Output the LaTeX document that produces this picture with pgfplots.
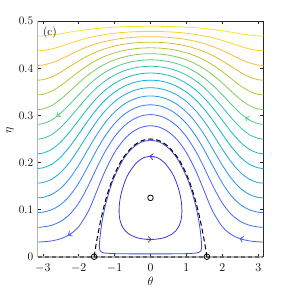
\documentclass[border=0pt]{standalone}
\usepackage{pgfplots}
\pgfplotsset{compat=1.18}
\usepackage{pgfplotstable}
\usetikzlibrary{arrows.meta}

\definecolor{cm1}{rgb}{0.268,0.206,0.816}
\definecolor{c0}{rgb}{0.280,0.278,0.922}
\definecolor{c1}{rgb}{0.278,0.356,0.977}
\definecolor{c2}{rgb}{0.244,0.436,0.999}
\definecolor{c3}{rgb}{0.181,0.518,0.974}
\definecolor{c4}{rgb}{0.154,0.590,0.922}
\definecolor{c5}{rgb}{0.118,0.655,0.882}
\definecolor{c6}{rgb}{0.030,0.708,0.816}
\definecolor{c7}{rgb}{0.070,0.746,0.726}
\definecolor{c8}{rgb}{0.194,0.776,0.625}
\definecolor{c9}{rgb}{0.316,0.799,0.499}
\definecolor{c10}{rgb}{0.504,0.799,0.348}
\definecolor{c11}{rgb}{0.698,0.775,0.207}
\definecolor{c12}{rgb}{0.863,0.741,0.160}
\definecolor{c13}{rgb}{0.984,0.737,0.238}
\definecolor{c14}{rgb}{0.989,0.814,0.189}
\definecolor{c15}{rgb}{0.960,0.901,0.148}

\pgfplotstableread{
t k3 k4 k5 k6 k7 k8 k9 k10 k11 k12 k13 k14 k15
-3.1416 0.0938 0.1250 0.1563 0.1875 0.2188 0.2500 0.2813 0.3125 0.3438 0.3750 0.4063 0.4375 0.4688
-3.0 0.0945 0.1259 0.1573 0.1887 0.2200 0.2513 0.2825 0.3137 0.3448 0.3759 0.4070 0.4380 0.4690
-2.75 0.0998 0.1324 0.1646 0.1965 0.2281 0.2594 0.2905 0.3212 0.3516 0.3818 0.4118 0.4414 0.4708
-2.5 0.1109 0.1455 0.1791 0.2118 0.2436 0.2746 0.3049 0.3345 0.3635 0.3919 0.4197 0.4469 0.4737
-2.25 0.1294 0.1663 0.2009 0.2338 0.2651 0.2950 0.3237 0.3513 0.3780 0.4039 0.4289 0.4533 0.4769
-2.0 0.1565 0.1944 0.2287 0.2604 0.2899 0.3176 0.3439 0.3690 0.3929 0.4159 0.4380 0.4593 0.4800
-1.75 0.1907 0.2268 0.2588 0.2879 0.3146 0.3395 0.3630 0.3852 0.4063 0.4265 0.4459 0.4646 0.4826
-1.5 0.2264 0.2587 0.2871 0.3129 0.3366 0.3586 0.3793 0.3989 0.4175 0.4353 0.4524 0.4688 0.4847
-1.25 0.2580 0.2860 0.3109 0.3336 0.3545 0.3740 0.3924 0.4098 0.4264 0.4422 0.4575 0.4721 0.4863
-1.0 0.2829 0.3074 0.3294 0.3495 0.3682 0.3858 0.4023 0.4180 0.4331 0.4474 0.4613 0.4746 0.4875
-0.75 0.3012 0.3230 0.3429 0.3612 0.3782 0.3943 0.4096 0.4240 0.4379 0.4512 0.4640 0.4764 0.4884
-0.5 0.3134 0.3335 0.3519 0.3690 0.3850 0.4001 0.4144 0.4281 0.4412 0.4538 0.4659 0.4776 0.4890
-0.25 0.3204 0.3395 0.3572 0.3735 0.3889 0.4034 0.4172 0.4304 0.4431 0.4552 0.4670 0.4783 0.4893
0 0.3226 0.3415 0.3589 0.3750 0.3902 0.4045 0.4182 0.4312 0.4437 0.4557 0.4673 0.4786 0.4894
0.25 0.3204 0.3395 0.3572 0.3735 0.3889 0.4034 0.4172 0.4304 0.4431 0.4552 0.4670 0.4783 0.4893
0.5 0.3134 0.3335 0.3519 0.3690 0.3850 0.4001 0.4144 0.4281 0.4412 0.4538 0.4659 0.4776 0.4890
0.75 0.3012 0.3230 0.3429 0.3612 0.3782 0.3943 0.4096 0.4240 0.4379 0.4512 0.4640 0.4764 0.4884
1.0 0.2829 0.3074 0.3294 0.3495 0.3682 0.3858 0.4023 0.4180 0.4331 0.4474 0.4613 0.4746 0.4875
1.25 0.2580 0.2860 0.3109 0.3336 0.3545 0.3740 0.3924 0.4098 0.4264 0.4422 0.4575 0.4721 0.4863
1.5 0.2264 0.2587 0.2871 0.3129 0.3366 0.3586 0.3793 0.3989 0.4175 0.4353 0.4524 0.4688 0.4847
1.75 0.1907 0.2268 0.2588 0.2879 0.3146 0.3395 0.3630 0.3852 0.4063 0.4265 0.4459 0.4646 0.4826
2.0 0.1565 0.1944 0.2287 0.2604 0.2899 0.3176 0.3439 0.3690 0.3929 0.4159 0.4380 0.4593 0.4800
2.25 0.1294 0.1663 0.2009 0.2338 0.2651 0.2950 0.3237 0.3513 0.3780 0.4039 0.4289 0.4533 0.4769
2.5 0.1109 0.1455 0.1791 0.2118 0.2436 0.2746 0.3049 0.3345 0.3635 0.3919 0.4197 0.4469 0.4737
2.75 0.0998 0.1324 0.1646 0.1965 0.2281 0.2594 0.2905 0.3212 0.3516 0.3818 0.4118 0.4414 0.4708
3.0 0.0945 0.1259 0.1573 0.1887 0.2200 0.2513 0.2825 0.3137 0.3448 0.3759 0.4070 0.4380 0.4690
3.1416 0.0938 0.1250 0.1563 0.1875 0.2188 0.2500 0.2813 0.3125 0.3438 0.3750 0.4063 0.4375 0.4688
}\tabA

\pgfplotstableread{
t k1 k2
-3.1416 0.0313 0.0625
-3.0 0.0316 0.0631
-2.75 0.0336 0.0669
-2.5 0.0383 0.0752
-2.25 0.0471 0.0899
-2.0 0.0637 0.1138
-1.75 0.0939 0.1482
-1.625 0.1150 0.1680
-1.5 0.1384 0.1882
-1.375 0.1621 0.2075
-1.25 0.1843 0.2253
-1.0 0.2212 0.2550
-0.75 0.2477 0.2765
-0.5 0.2651 0.2909
-0.25 0.2749 0.2991
0 0.2781 0.3018
0.25 0.2749 0.2991
0.5 0.2651 0.2909
0.75 0.2477 0.2765
1.0 0.2212 0.2550
1.25 0.1843 0.2253
1.375 0.1621 0.2075
1.5 0.1384 0.1882
1.625 0.1150 0.1680
1.75 0.0939 0.1482
2.0 0.0637 0.1138
2.25 0.0471 0.0899
2.5 0.0383 0.0752
2.75 0.0336 0.0669
3.0 0.0316 0.0631
3.1416 0.0313 0.0625
}\tabB

\begin{document}
\begin{tikzpicture}
\path[use as bounding box] (-37.7pt,-34.3pt) rectangle (253.3pt,256.7pt);
\begin{axis}[
  scale only axis, width=225.6pt, height=235.4pt,
  xmin=-3.14159, xmax=3.14159, ymin=0, ymax=0.5,
  xtick={-3,-2,-1,0,1,2,3},
  ytick={0,0.1,0.2,0.3,0.4,0.5},
  yticklabels={0,0.1,0.2,0.3,0.4,0.5},
  tick align=inside, major tick length=3pt,
  axis line style={black!85, line width=0.5pt},
  tick style={black!85, line width=0.5pt},
  tick label style={font=\fontsize{11.5pt}{13pt}\selectfont},
  label style={font=\fontsize{11.5pt}{13pt}\selectfont},
  xlabel={$\theta$}, ylabel={$\eta$},
  xlabel style={at={(axis description cs:0.5,-0.1032)},anchor=center},
  ylabel style={at={(axis description cs:-0.1228,0.535)},anchor=center},
  xticklabel style={yshift=-3.5pt},
  yticklabel style={xshift=-1pt},
  clip=false,
  every axis plot/.append style={line width=0.8pt},
]
% outer contours
\addplot[c1, smooth] table[x=t,y=k1]{\tabB};
\addplot[c2, smooth] table[x=t,y=k2]{\tabB};
\addplot[c3, smooth] table[x=t,y=k3]{\tabA};
\addplot[c4, smooth] table[x=t,y=k4]{\tabA};
\addplot[c5, smooth] table[x=t,y=k5]{\tabA};
\addplot[c6, smooth] table[x=t,y=k6]{\tabA};
\addplot[c7, smooth] table[x=t,y=k7]{\tabA};
\addplot[c8, smooth] table[x=t,y=k8]{\tabA};
\addplot[c9, smooth] table[x=t,y=k9]{\tabA};
\addplot[c10, smooth] table[x=t,y=k10]{\tabA};
\addplot[c11, smooth] table[x=t,y=k11]{\tabA};
\addplot[c12, smooth] table[x=t,y=k12]{\tabA};
\addplot[c13, smooth] table[x=t,y=k13]{\tabA};
\addplot[c14, smooth] table[x=t,y=k14]{\tabA};
\addplot[c15, smooth] table[x=t,y=k15]{\tabA};
% inner closed orbit
\addplot[cm1, smooth] coordinates {
(0,0.2134)(0.2,0.2099)(0.4,0.1988)(0.6,0.1780)(0.7,0.1621)(0.8,0.1391)(0.85,0.1210)(0.865,0.1125)(0.875,0.0976)
(0.865,0.0843)(0.85,0.0778)(0.8,0.0662)(0.7,0.0546)(0.6,0.0481)(0.4,0.0409)(0.2,0.0376)(0,0.0366)
(-0.2,0.0376)(-0.4,0.0409)(-0.6,0.0481)(-0.7,0.0546)(-0.8,0.0662)(-0.85,0.0778)(-0.865,0.0843)(-0.875,0.0976)
(-0.865,0.1125)(-0.85,0.1210)(-0.8,0.1391)(-0.7,0.1621)(-0.6,0.1780)(-0.4,0.1988)(-0.2,0.2099)(0,0.2134)};
% orbit hugging separatrix
\addplot[c0, smooth] coordinates {
(0,0.2475)(0.25,0.2435)(0.5,0.2308)(0.75,0.2078)(1.0,0.1706)(1.125,0.1446)(1.25,0.1113)(1.3,0.094)(1.35,0.074)(1.39,0.053)(1.415,0.034)(1.425,0.022)
(1.41,0.014)(1.37,0.010)(1.3,0.008)(1.0,0.0065)(0.5,0.006)(0,0.006)
(-0.5,0.006)(-1.0,0.0065)(-1.3,0.008)(-1.37,0.010)(-1.41,0.014)(-1.425,0.022)
(-1.415,0.034)(-1.39,0.053)(-1.35,0.074)(-1.3,0.094)(-1.25,0.1113)(-1.125,0.1446)(-1.0,0.1706)(-0.75,0.2078)(-0.5,0.2308)(-0.25,0.2435)(0,0.2475)};
% invariant edges
\addplot[black!30, line width=1.6pt] coordinates {(-3.14159,0)(-3.14159,0.5)};
\addplot[black!30, line width=1.8pt] coordinates {(-3.14159,0)(3.14159,0)};
\addplot[black!60, line width=1.8pt, dash pattern=on 4pt off 3pt] coordinates {(-3.14159,0)(3.14159,0)};
% separatrix
\addplot[black, line width=1pt, dash pattern=on 5pt off 3pt, smooth] coordinates {
(-1.5708,0)(-1.5,0.0330)(-1.375,0.0814)(-1.25,0.1199)(-1.125,0.1506)(-1.0,0.1754)(-0.875,0.1952)(-0.75,0.2113)(-0.5,0.2337)(-0.25,0.2461)(0,0.25)
(0.25,0.2461)(0.5,0.2337)(0.75,0.2113)(0.875,0.1952)(1.0,0.1754)(1.125,0.1506)(1.25,0.1199)(1.375,0.0814)(1.5,0.0330)(1.5708,0)};
% fixed points
\addplot[only marks, mark=o, mark size=2.8pt, black, mark options={line width=0.8pt}] coordinates {(0,0.125)(-1.5708,0)(1.5708,0)};
% arrows
\addplot[c1, -{Straight Barb[length=3pt,width=6pt]}] coordinates {(-2.2,0.0498)(-2.3,0.0453)};
\addplot[c1, -{Straight Barb[length=3pt,width=6pt]}] coordinates {(2.6,0.0362)(2.48,0.0388)};
\addplot[c9, -{Straight Barb[length=3pt,width=6pt]}] coordinates {(-2.5,0.3049)(-2.62,0.2980)};
\addplot[c9, -{Straight Barb[length=3pt,width=6pt]}] coordinates {(2.76,0.2900)(2.64,0.2968)};
\addplot[cm1, -{Straight Barb[length=3pt,width=6pt]}] coordinates {(0.12,0.2121)(-0.03,0.2133)};
\addplot[cm1, -{Straight Barb[length=3pt,width=6pt]}] coordinates {(-0.12,0.0368)(0.03,0.0366)};
\node[font=\fontsize{11.5pt}{13pt}\selectfont] at (axis cs:-2.80,0.475) {(c)};
\end{axis}
\end{tikzpicture}
\end{document}
